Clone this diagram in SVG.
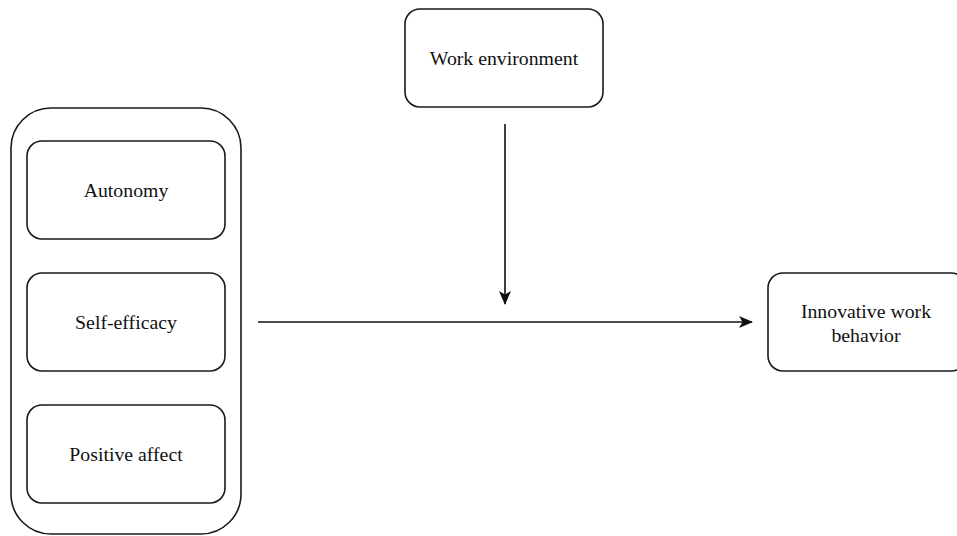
<svg xmlns="http://www.w3.org/2000/svg" width="957" height="536" viewBox="0 0 957 536">
<style>
.box{fill:#fff;stroke:#1a1a1a;stroke-width:1.6}
.lbl{font-family:"Liberation Serif","Times New Roman",serif;font-size:19.8px;fill:#111;text-anchor:middle}
.edge{stroke:#111;stroke-width:1.6;fill:none}
</style>
<defs>
<marker id="ah" viewBox="0 0 14 12" refX="13" refY="6" markerWidth="14" markerHeight="12" markerUnits="userSpaceOnUse" orient="auto">
<path d="M0,0 L14,6 L0,12 L3.5,6 Z" fill="#111"/>
</marker>
</defs>
<rect width="957" height="536" fill="#fff"/>
<g id="group-left">
<rect class="box" x="11" y="108" width="230" height="426" rx="40"/>
</g>
<g id="autonomy">
<rect class="box" x="27" y="141" width="198" height="98" rx="15"/>
<text class="lbl" x="126" y="197">Autonomy</text>
</g>
<g id="self-efficacy">
<rect class="box" x="27" y="273" width="198" height="98" rx="15"/>
<text class="lbl" x="126" y="329">Self-efficacy</text>
</g>
<g id="positive-affect">
<rect class="box" x="27" y="405" width="198" height="98" rx="15"/>
<text class="lbl" x="126" y="461">Positive affect</text>
</g>
<g id="work-environment">
<rect class="box" x="405" y="9" width="198" height="98" rx="15"/>
<text class="lbl" x="504" y="65">Work environment</text>
</g>
<g id="innovative-work-behavior">
<rect class="box" x="768" y="273" width="198" height="98" rx="15"/>
<text class="lbl" x="866" y="318">Innovative work</text>
<text class="lbl" x="866" y="342">behavior</text>
</g>
<g id="connectors">
<line class="edge" x1="505" y1="124" x2="505" y2="304" marker-end="url(#ah)"/>
<line class="edge" x1="258" y1="322" x2="752" y2="322" marker-end="url(#ah)"/>
</g>
</svg>
